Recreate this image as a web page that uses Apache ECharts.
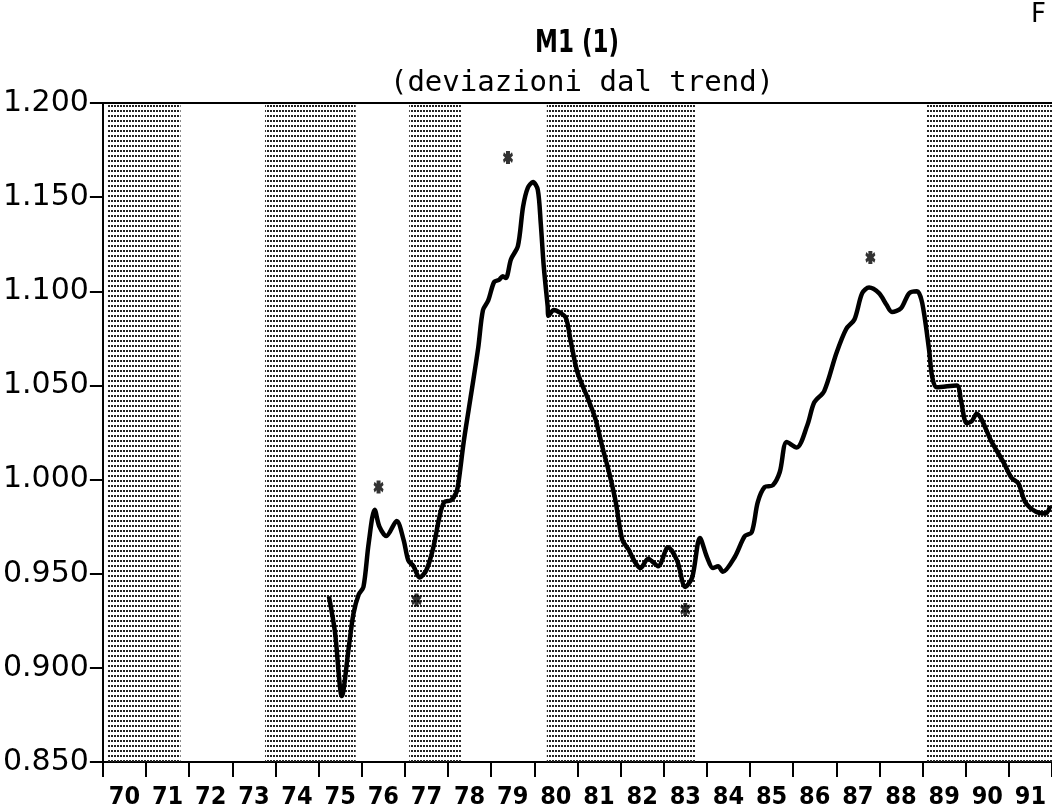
<!DOCTYPE html>
<html>
<head>
<meta charset="utf-8">
<script src="https://cdn.jsdelivr.net/npm/echarts@6/dist/echarts.min.js"></script>
<style>
  html, body { margin: 0; padding: 0; background: #fff; }
  #chart { width: 1052px; height: 811px; }
</style>
</head>
<body>
<div id="chart"></div>
<script>
// anni (etichette asse x)
var yearLabels = ['70','71','72','73','74','75','76','77','78','79','80','81','82','83','84','85','86','87','88','89','90','91']

// M1, deviazioni dal trend (anno decimale, valore)
var m1Time = [
  75.24, 75.38, 75.54, 75.70, 75.81, 75.93, 76.04, 76.16, 76.30, 76.41,
  76.57, 76.81, 76.97, 77.08, 77.20, 77.34, 77.50, 77.66, 77.80, 77.91,
  78.07, 78.19, 78.24, 78.37, 78.54, 78.70, 78.81, 78.93, 79.07, 79.18,
  79.27, 79.34, 79.46, 79.62, 79.74, 79.85, 79.97, 80.08, 80.15, 80.22,
  80.31, 80.33, 80.45, 80.57, 80.73, 80.84, 81.00, 81.26, 81.42, 81.58,
  81.72, 81.88, 82.04, 82.18, 82.34, 82.46, 82.64, 82.87, 83.10, 83.31,
  83.50, 83.66, 83.84, 84.00, 84.14, 84.26, 84.37, 84.65, 84.88, 85.04,
  85.18, 85.34, 85.53, 85.69, 85.85, 86.08, 86.33, 86.49, 86.72, 87.00,
  87.23, 87.42, 87.60, 87.76, 87.99, 88.16, 88.29, 88.50, 88.69, 88.87,
  88.99, 89.15, 89.22, 89.33, 89.79, 89.89, 90.02, 90.14, 90.25, 90.60,
  90.88, 91.06, 91.22, 91.38, 91.62, 91.85, 91.96
]
var m1Value = [
  0.938, 0.919, 0.885, 0.911, 0.929, 0.939, 0.943, 0.966, 0.984, 0.975,
  0.970, 0.978, 0.968, 0.957, 0.954, 0.948, 0.952, 0.964, 0.980, 0.988,
  0.989, 0.993, 0.998, 1.021, 1.046, 1.070, 1.090, 1.095, 1.105, 1.106,
  1.108, 1.107, 1.117, 1.124, 1.145, 1.155, 1.158, 1.154, 1.136, 1.113,
  1.092, 1.087, 1.090, 1.089, 1.086, 1.074, 1.057, 1.042, 1.032, 1.017,
  1.005, 0.989, 0.968, 0.963, 0.956, 0.953, 0.958, 0.954, 0.964, 0.957,
  0.943, 0.948, 0.969, 0.959, 0.953, 0.954, 0.951, 0.959, 0.970, 0.972,
  0.988, 0.996, 0.997, 1.004, 1.020, 1.017, 1.029, 1.041, 1.047, 1.067,
  1.080, 1.085, 1.099, 1.102, 1.099, 1.093, 1.089, 1.091, 1.099, 1.100,
  1.094, 1.069, 1.055, 1.049, 1.050, 1.042, 1.030, 1.031, 1.035, 1.020,
  1.009, 1.001, 0.998, 0.988, 0.983, 0.982, 0.986
]

// punti di svolta (asterischi)
var turnTime = [76.39, 77.27, 79.39, 83.50, 87.79]
var turnValue = [0.996, 0.936, 1.171, 0.931, 1.118]

// fasi retinate (inizio, fine)
var bandStart = [70.12, 73.76, 77.10, 80.29, 89.08]
var bandEnd = [71.80, 75.86, 78.30, 83.73, 92.00]

// tick asse y
var yMin = 0.85, yMax = 1.2, yStep = 0.05

// retino a puntini
var dots = document.createElement('canvas')
dots.width = 3
dots.height = 5
var dctx = dots.getContext('2d')
dctx.fillStyle = '#222'
dctx.fillRect(0, 0, 2, 2)

var lineData = m1Time.map(function (t, i) { return [t, m1Value[i]] })
var turnData = turnTime.map(function (t, i) { return [t, turnValue[i]] })
var bandData = bandStart.map(function (s, i) { return [{ xAxis: s }, { xAxis: bandEnd[i] }] })

var star = 'path://M3,0 L7,0 L7,3 L9,1 L10,4 L8,6 L10,8 L9,11 L7,9 L7,12 L3,12 L3,9 L1,11 L0,8 L2,6 L0,4 L1,1 L3,3 Z'

var myChart = echarts.init(document.getElementById('chart'))
var option = {
  backgroundColor: '#fff',
  animation: false,
  title: {
    text: '(deviazioni dal trend)',
    left: 577,
    top: 64,
    textAlign: 'center',
    textStyle: { fontFamily: '"DejaVu Sans Mono", monospace', fontWeight: 'normal', fontSize: 29, color: '#000' }
  },
  graphic: [
    // titolo stretto (font condensato)
    {
      type: 'text', x: 577, y: 44, scaleX: 0.72,
      style: { text: 'M1 (1)', font: 'bold 32px "DejaVu Sans"', fill: '#000', align: 'center', verticalAlign: 'middle' }
    },
    { type: 'text', right: 6, top: 2, style: { text: 'F', font: '26px "DejaVu Sans"', fill: '#000' } }
  ],
  grid: { left: 101, right: -1, top: 103, bottom: 49 },
  xAxis: [
    {
      type: 'category',
      data: yearLabels,
      position: 'bottom',
      boundaryGap: true,
      axisLine: { lineStyle: { color: '#000', width: 2 } },
      axisTick: { show: true, length: 15, interval: 0, lineStyle: { color: '#000', width: 2 } },
      axisLabel: {
        interval: 0,
        margin: 23,
        color: '#000',
        fontSize: 25,
        fontWeight: 'bold',
        fontFamily: '"DejaVu Sans Condensed", "Liberation Sans Narrow", sans-serif'
      },
      splitLine: { show: false }
    },
    {
      type: 'value',
      min: 70,
      max: 92,
      position: 'top',
      axisLine: { show: true, onZero: false, lineStyle: { color: '#000', width: 2 } },
      axisTick: { show: false },
      axisLabel: { show: false },
      splitLine: { show: false }
    }
  ],
  yAxis: {
    type: 'value',
    min: yMin,
    max: yMax,
    interval: yStep,
    axisLine: { show: true, lineStyle: { color: '#000', width: 2 } },
    axisTick: { show: true, length: 13, lineStyle: { color: '#000', width: 2 } },
    axisLabel: {
      margin: 14,
      color: '#000',
      fontSize: 30,
      fontFamily: '"DejaVu Sans", sans-serif',
      formatter: function (v) { return v.toFixed(3) }
    },
    splitLine: { show: false }
  },
  series: [
    {
      name: 'M1',
      type: 'line',
      xAxisIndex: 1,
      data: lineData,
      smooth: 0.3,
      showSymbol: false,
      lineStyle: { color: '#000', width: 4.5 },
      z: 3,
      markArea: {
        silent: true,
        itemStyle: { color: { image: dots, repeat: 'repeat' } },
        data: bandData
      }
    },
    {
      name: 'svolte',
      type: 'scatter',
      xAxisIndex: 1,
      data: turnData,
      symbol: star,
      symbolSize: [10, 13],
      itemStyle: { color: '#000' },
      z: 4
    }
  ]
}
myChart.setOption(option)
</script>
</body>
</html>
